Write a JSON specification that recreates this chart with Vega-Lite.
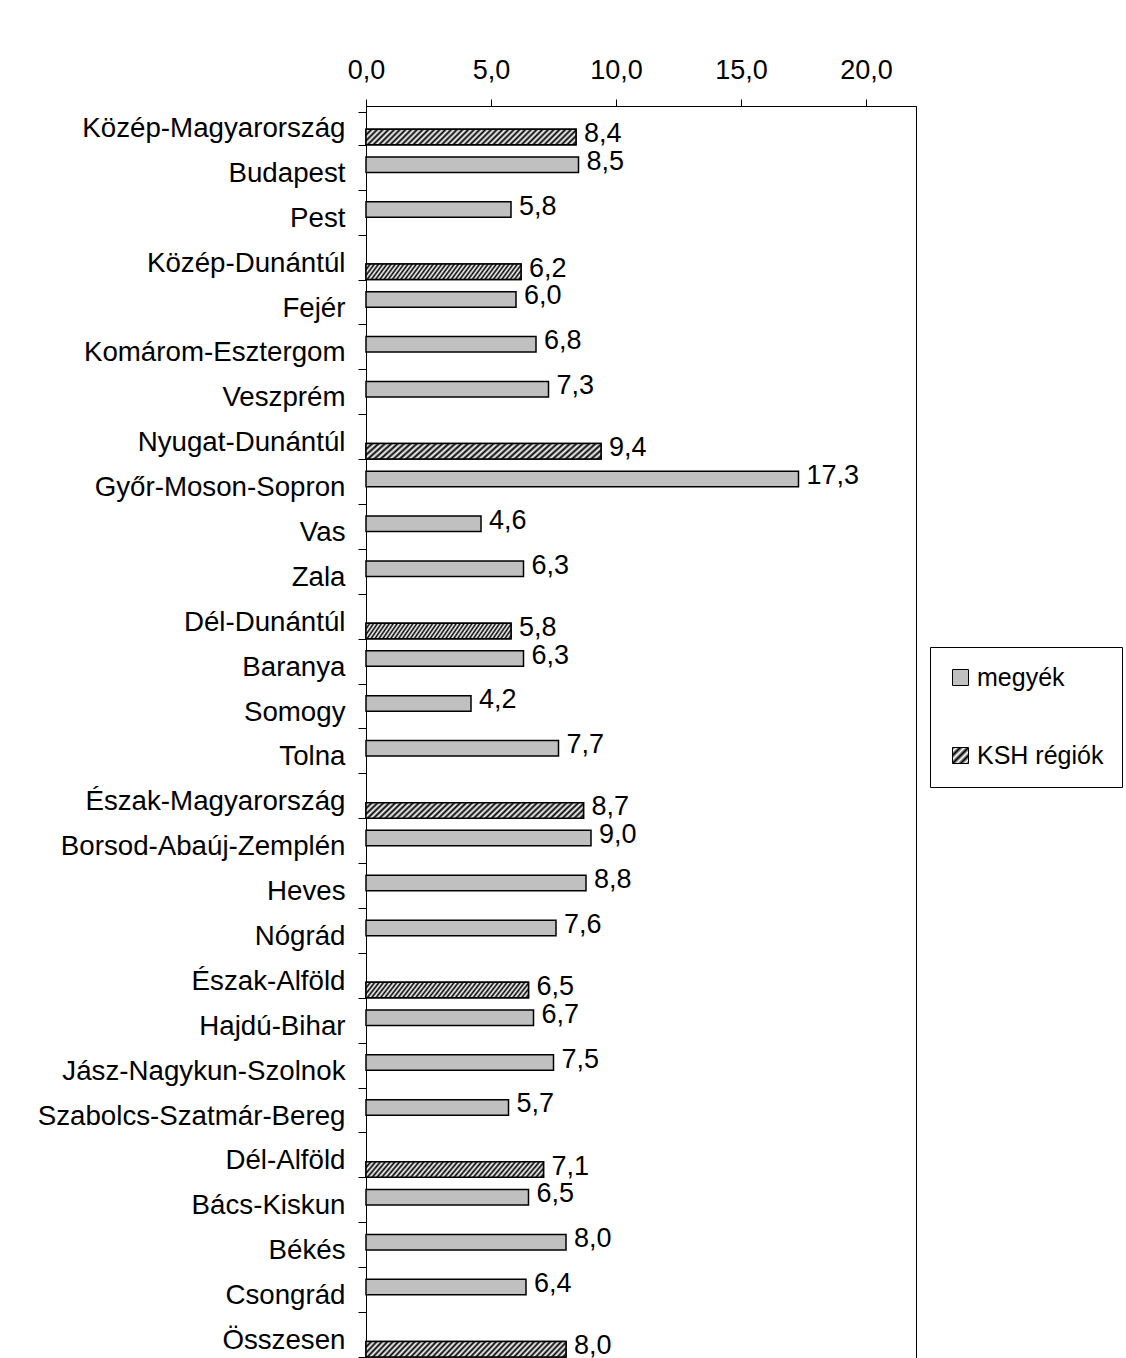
{
  "$schema": "https://vega.github.io/schema/vega-lite/v6.json",
  "autosize": {"type": "none"},
  "padding": {"left": 366, "top": 106, "right": 210, "bottom": 0},
  "width": 550,
  "height": 1257,
  "background": "white",
  "data": {
    "values": [
      {"name": "Közép-Magyarország", "series": "KSH régiók", "value": 8.4},
      {"name": "Budapest", "series": "megyék", "value": 8.5},
      {"name": "Pest", "series": "megyék", "value": 5.8},
      {"name": "Közép-Dunántúl", "series": "KSH régiók", "value": 6.2},
      {"name": "Fejér", "series": "megyék", "value": 6.0},
      {"name": "Komárom-Esztergom", "series": "megyék", "value": 6.8},
      {"name": "Veszprém", "series": "megyék", "value": 7.3},
      {"name": "Nyugat-Dunántúl", "series": "KSH régiók", "value": 9.4},
      {"name": "Győr-Moson-Sopron", "series": "megyék", "value": 17.3},
      {"name": "Vas", "series": "megyék", "value": 4.6},
      {"name": "Zala", "series": "megyék", "value": 6.3},
      {"name": "Dél-Dunántúl", "series": "KSH régiók", "value": 5.8},
      {"name": "Baranya", "series": "megyék", "value": 6.3},
      {"name": "Somogy", "series": "megyék", "value": 4.2},
      {"name": "Tolna", "series": "megyék", "value": 7.7},
      {"name": "Észak-Magyarország", "series": "KSH régiók", "value": 8.7},
      {"name": "Borsod-Abaúj-Zemplén", "series": "megyék", "value": 9.0},
      {"name": "Heves", "series": "megyék", "value": 8.8},
      {"name": "Nógrád", "series": "megyék", "value": 7.6},
      {"name": "Észak-Alföld", "series": "KSH régiók", "value": 6.5},
      {"name": "Hajdú-Bihar", "series": "megyék", "value": 6.7},
      {"name": "Jász-Nagykun-Szolnok", "series": "megyék", "value": 7.5},
      {"name": "Szabolcs-Szatmár-Bereg", "series": "megyék", "value": 5.7},
      {"name": "Dél-Alföld", "series": "KSH régiók", "value": 7.1},
      {"name": "Bács-Kiskun", "series": "megyék", "value": 6.5},
      {"name": "Békés", "series": "megyék", "value": 8.0},
      {"name": "Csongrád", "series": "megyék", "value": 6.4},
      {"name": "Összesen", "series": "KSH régiók", "value": 8.0}
    ]
  },
  "encoding": {
    "y": {
      "field": "name", "type": "nominal", "sort": null,
      "scale": {"paddingInner": 0.27, "paddingOuter": 0.135},
      "axis": {
        "title": null, "labelFontSize": 27.7, "tickSize": 8, "labelPadding": 13,
        "tickBand": "extent", "domainColor": "black", "tickColor": "black",
        "labelColor": "black", "labelFont": "Liberation Sans", "labelLimit": 500
      }
    },
    "yOffset": {
      "field": "series", "type": "nominal",
      "scale": {"domain": ["megyék", "KSH régiók"], "paddingInner": 0.1, "paddingOuter": 0}
    },
    "x": {
      "field": "value", "type": "quantitative",
      "scale": {"domain": [0, 22], "nice": false, "zero": true},
      "axis": {
        "orient": "top", "title": null, "values": [0, 5, 10, 15, 20], "format": ".1f",
        "labelFontSize": 27, "tickSize": 7, "labelPadding": 15, "grid": false,
        "domainColor": "black", "tickColor": "black", "labelColor": "black",
        "labelFont": "Liberation Sans", "labelFlush": false
      }
    }
  },
  "layer": [
    {
      "mark": {"type": "bar", "stroke": "black", "strokeWidth": 1.5},
      "encoding": {
        "stroke": {"value": "black"},
        "color": {
          "field": "series", "type": "nominal",
          "scale": {
            "domain": ["megyék", "KSH régiók"],
            "range": [
              "#c0c0c0",
              {"expr": "{gradient: 'linear', x1: 0, y1: 0, x2: 1, y2: 1, stops: [{offset: 0, color: '#000000'}, {offset: 0.125, color: '#ffffff'}, {offset: 0.25, color: '#000000'}, {offset: 0.375, color: '#ffffff'}, {offset: 0.5, color: '#000000'}, {offset: 0.625, color: '#ffffff'}, {offset: 0.75, color: '#000000'}, {offset: 0.875, color: '#ffffff'}, {offset: 1, color: '#000000'}]}"}
            ]
          },
          "legend": {
            "title": null, "orient": "none", "legendX": 564, "legendY": 541,
            "direction": "vertical",
            "strokeColor": "black", "fillColor": "white",
            "padding": 18, "rowPadding": 52,
            "symbolType": "square", "symbolSize": 256,
            "symbolStrokeColor": "black", "symbolStrokeWidth": 1,
            "labelFontSize": 25, "labelFont": "Liberation Sans", "labelColor": "black",
            "labelOffset": 4, "labelLimit": 300
          }
        }
      }
    },
    {
      "transform": [{"filter": "datum.series === 'KSH régiók'"}],
      "mark": {
        "type": "bar", "stroke": "black", "strokeWidth": 1.5,
        "fill": {
          "gradient": "linear", "x1": 0, "y1": 0, "x2": 1.08, "y2": 0.08,
          "stops": [
            {"offset": 0, "color": "#000000"}, {"offset": 0.0125, "color": "#ffffff"},
            {"offset": 0.025, "color": "#000000"}, {"offset": 0.0375, "color": "#ffffff"},
            {"offset": 0.05, "color": "#000000"}, {"offset": 0.0625, "color": "#ffffff"},
            {"offset": 0.075, "color": "#000000"}, {"offset": 0.0875, "color": "#ffffff"},
            {"offset": 0.1, "color": "#000000"}, {"offset": 0.1125, "color": "#ffffff"},
            {"offset": 0.125, "color": "#000000"}, {"offset": 0.1375, "color": "#ffffff"},
            {"offset": 0.15, "color": "#000000"}, {"offset": 0.1625, "color": "#ffffff"},
            {"offset": 0.175, "color": "#000000"}, {"offset": 0.1875, "color": "#ffffff"},
            {"offset": 0.2, "color": "#000000"}, {"offset": 0.2125, "color": "#ffffff"},
            {"offset": 0.225, "color": "#000000"}, {"offset": 0.2375, "color": "#ffffff"},
            {"offset": 0.25, "color": "#000000"}, {"offset": 0.2625, "color": "#ffffff"},
            {"offset": 0.275, "color": "#000000"}, {"offset": 0.2875, "color": "#ffffff"},
            {"offset": 0.3, "color": "#000000"}, {"offset": 0.3125, "color": "#ffffff"},
            {"offset": 0.325, "color": "#000000"}, {"offset": 0.3375, "color": "#ffffff"},
            {"offset": 0.35, "color": "#000000"}, {"offset": 0.3625, "color": "#ffffff"},
            {"offset": 0.375, "color": "#000000"}, {"offset": 0.3875, "color": "#ffffff"},
            {"offset": 0.4, "color": "#000000"}, {"offset": 0.4125, "color": "#ffffff"},
            {"offset": 0.425, "color": "#000000"}, {"offset": 0.4375, "color": "#ffffff"},
            {"offset": 0.45, "color": "#000000"}, {"offset": 0.4625, "color": "#ffffff"},
            {"offset": 0.475, "color": "#000000"}, {"offset": 0.4875, "color": "#ffffff"},
            {"offset": 0.5, "color": "#000000"}, {"offset": 0.5125, "color": "#ffffff"},
            {"offset": 0.525, "color": "#000000"}, {"offset": 0.5375, "color": "#ffffff"},
            {"offset": 0.55, "color": "#000000"}, {"offset": 0.5625, "color": "#ffffff"},
            {"offset": 0.575, "color": "#000000"}, {"offset": 0.5875, "color": "#ffffff"},
            {"offset": 0.6, "color": "#000000"}, {"offset": 0.6125, "color": "#ffffff"},
            {"offset": 0.625, "color": "#000000"}, {"offset": 0.6375, "color": "#ffffff"},
            {"offset": 0.65, "color": "#000000"}, {"offset": 0.6625, "color": "#ffffff"},
            {"offset": 0.675, "color": "#000000"}, {"offset": 0.6875, "color": "#ffffff"},
            {"offset": 0.7, "color": "#000000"}, {"offset": 0.7125, "color": "#ffffff"},
            {"offset": 0.725, "color": "#000000"}, {"offset": 0.7375, "color": "#ffffff"},
            {"offset": 0.75, "color": "#000000"}, {"offset": 0.7625, "color": "#ffffff"},
            {"offset": 0.775, "color": "#000000"}, {"offset": 0.7875, "color": "#ffffff"},
            {"offset": 0.8, "color": "#000000"}, {"offset": 0.8125, "color": "#ffffff"},
            {"offset": 0.825, "color": "#000000"}, {"offset": 0.8375, "color": "#ffffff"},
            {"offset": 0.85, "color": "#000000"}, {"offset": 0.8625, "color": "#ffffff"},
            {"offset": 0.875, "color": "#000000"}, {"offset": 0.8875, "color": "#ffffff"},
            {"offset": 0.9, "color": "#000000"}, {"offset": 0.9125, "color": "#ffffff"},
            {"offset": 0.925, "color": "#000000"}, {"offset": 0.9375, "color": "#ffffff"},
            {"offset": 0.95, "color": "#000000"}, {"offset": 0.9625, "color": "#ffffff"},
            {"offset": 0.975, "color": "#000000"}, {"offset": 0.9875, "color": "#ffffff"},
            {"offset": 1, "color": "#000000"}
          ]
        }
      }
    },
    {
      "mark": {"type": "text", "align": "left", "baseline": "middle", "dx": 8, "dy": -3, "fontSize": 27, "font": "Liberation Sans", "color": "black"},
      "encoding": {
        "text": {"field": "value", "type": "quantitative", "format": ".1f"}
      }
    }
  ],
  "config": {
    "locale": {"number": {"decimal": ",", "thousands": " ", "grouping": [3], "currency": ["", " Ft"]}},
    "view": {"stroke": "black", "strokeWidth": 1},
    "axis": {"grid": false}
  }
}
